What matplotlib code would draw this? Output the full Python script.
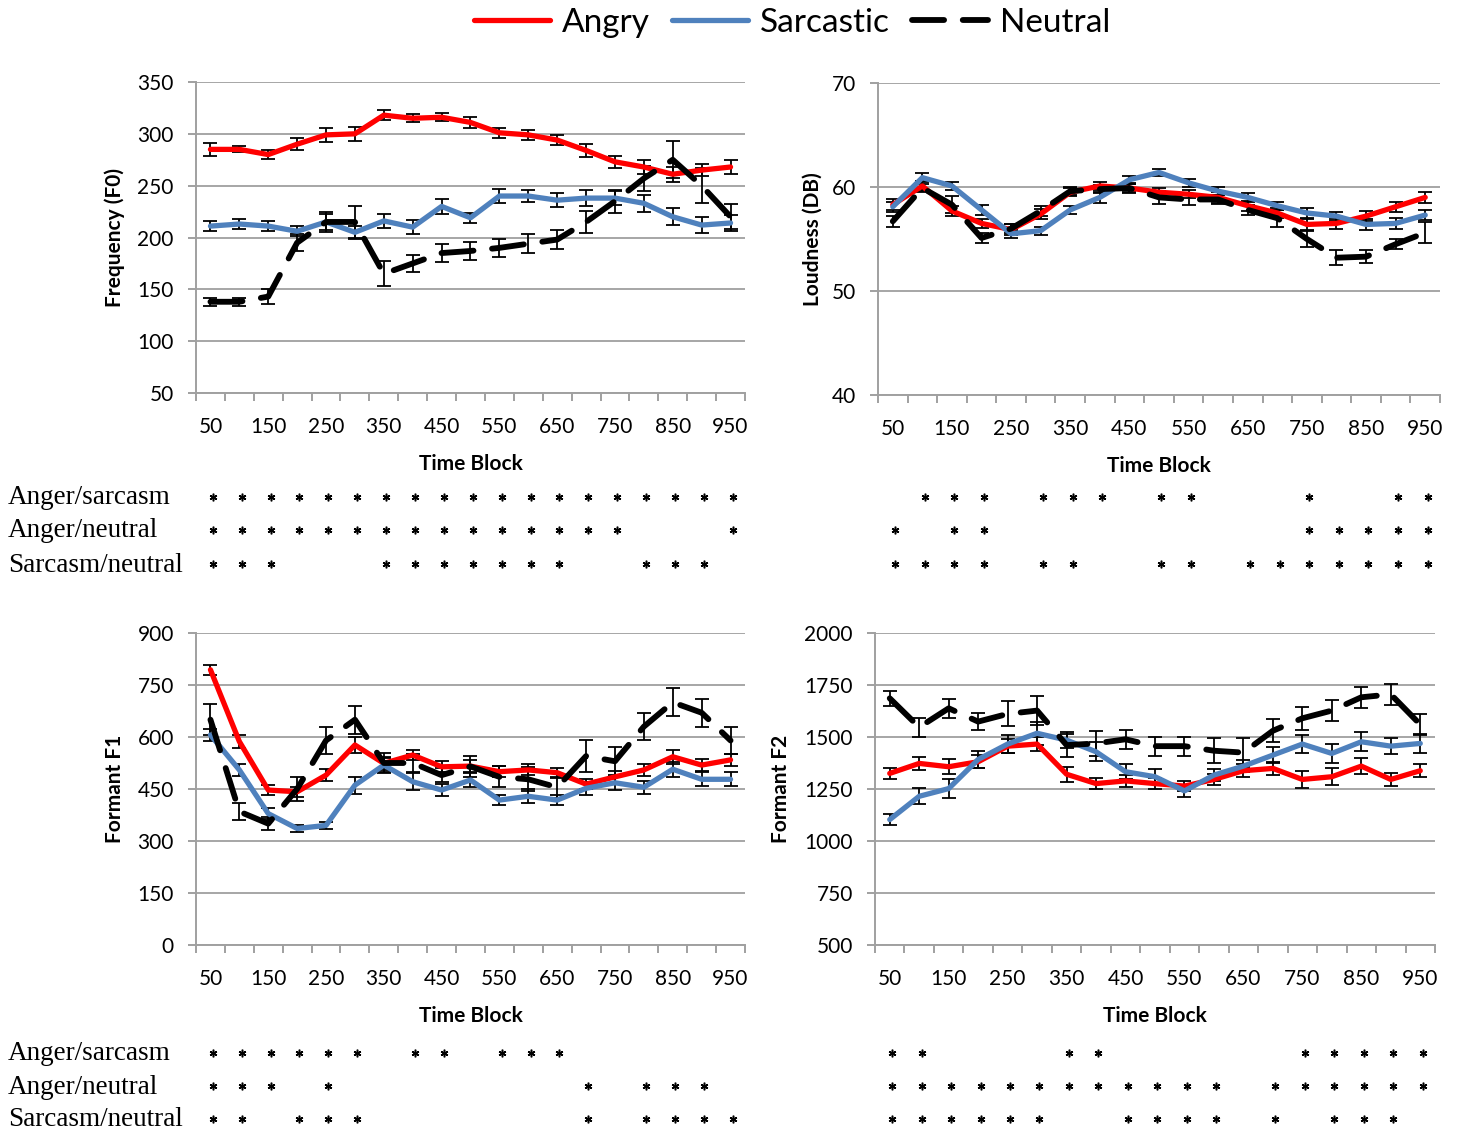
import matplotlib
matplotlib.use("Agg")
import matplotlib.pyplot as plt
import matplotlib.transforms as mtransforms
import numpy as np

# ---------------- data ----------------
blocks = [50, 100, 150, 200, 250, 300, 350, 400, 450, 500,
          550, 600, 650, 700, 750, 800, 850, 900, 950]
tick_labels = ["50", "150", "250", "350", "450", "550", "650", "750", "850", "950"]

# Frequency (F0)
f0_angry = [285, 285, 280, 290, 299, 300, 318, 315, 316, 311, 301, 299, 294, 284, 273, 268, 261, 265, 268]
f0_angry_err = [6, 3, 4, 6, 7, 7, 5, 4, 4, 5, 5, 5, 5, 6, 6, 7, 7, 6, 7]
f0_sarc = [211, 213, 211, 206, 215, 205, 216, 210, 230, 219, 240, 240, 236, 238, 238, 233, 220, 212, 214]
f0_sarc_err = [5, 5, 5, 5, 8, 6, 7, 7, 7, 5, 7, 6, 7, 8, 7, 8, 8, 8, 8]
f0_neut = [138, 138, 143, 195, 215, 215, 165, 175, 185, 187, 190, 194, 198, 215, 235, 257, 275, 250, 220]
f0_neut_err = [4, 4, 7, 8, 10, 15, 12, 8, 9, 9, 9, 9, 9, 11, 11, 12, 18, 17, 12]

# Loudness (DB)
ld_angry = [58.3, 60.1, 57.7, 56.5, 55.9, 57.4, 59.5, 60.1, 59.9, 59.5, 59.3, 59.0, 58.2, 57.5, 56.4, 56.5, 57.2, 58.1, 59.0]
ld_angry_err = [0.5, 0.5, 0.5, 0.4, 0.5, 0.5, 0.4, 0.4, 0.4, 0.4, 0.4, 0.5, 0.5, 0.5, 0.5, 0.5, 0.5, 0.5, 0.5]
ld_sarc = [58.1, 60.9, 60.1, 57.8, 55.5, 55.8, 57.8, 59.0, 60.7, 61.4, 60.4, 59.6, 59.0, 58.2, 57.5, 57.2, 56.4, 56.5, 57.3]
ld_sarc_err = [0.5, 0.4, 0.4, 0.5, 0.4, 0.4, 0.4, 0.5, 0.4, 0.3, 0.4, 0.4, 0.4, 0.4, 0.5, 0.4, 0.5, 0.5, 0.5]
ld_neut = [56.7, 59.9, 58.3, 55.1, 56.0, 57.7, 59.6, 59.8, 59.9, 59.0, 58.8, 58.8, 57.8, 57.0, 55.0, 53.2, 53.3, 54.5, 55.6]
ld_neut_err = [0.5, 0.4, 0.8, 0.5, 0.4, 0.5, 0.4, 0.4, 0.5, 0.6, 0.5, 0.4, 0.5, 0.8, 0.8, 0.7, 0.6, 0.5, 1.0]

# Formant F1
f1_angry = [794, 587, 447, 442, 490, 577, 524, 548, 514, 516, 500, 505, 497, 464, 485, 505, 543, 519, 534]
f1_angry_err = [15, 18, 15, 15, 18, 22, 18, 15, 16, 18, 15, 16, 15, 15, 18, 18, 20, 18, 18]
f1_sarc = [606, 505, 379, 336, 345, 461, 519, 471, 447, 476, 418, 429, 418, 452, 468, 455, 507, 478, 478]
f1_sarc_err = [18, 18, 15, 10, 10, 25, 20, 25, 18, 20, 15, 20, 15, 18, 20, 18, 22, 20, 20]
f1_neut = [650, 385, 350, 450, 590, 650, 525, 525, 490, 515, 485, 478, 455, 545, 530, 630, 700, 670, 590]
f1_neut_err = [45, 25, 18, 35, 40, 40, 30, 25, 20, 30, 30, 35, 30, 45, 40, 40, 40, 40, 40]

# Formant F2
f2_angry = [1325, 1373, 1357, 1381, 1456, 1466, 1321, 1276, 1289, 1276, 1264, 1296, 1338, 1349, 1296, 1309, 1360, 1296, 1338]
f2_angry_err = [25, 32, 35, 32, 32, 35, 35, 25, 28, 28, 25, 25, 30, 30, 40, 40, 40, 30, 30]
f2_sarc = [1103, 1215, 1252, 1392, 1466, 1518, 1485, 1429, 1333, 1309, 1241, 1317, 1360, 1413, 1466, 1421, 1477, 1456, 1469]
f2_sarc_err = [25, 38, 45, 40, 42, 55, 40, 45, 35, 35, 30, 30, 30, 40, 45, 45, 45, 40, 45]
f2_neut = [1686, 1547, 1638, 1574, 1611, 1627, 1461, 1469, 1489, 1456, 1456, 1434, 1425, 1530, 1590, 1627, 1691, 1705, 1560]
f2_neut_err = [35, 45, 45, 40, 60, 70, 55, 60, 45, 45, 45, 60, 70, 55, 55, 50, 50, 50, 50]

# significance stars (time blocks with a star)
row_labels = ["Anger/sarcasm", "Anger/neutral", "Sarcasm/neutral"]
f0_sig = [
    [50, 100, 150, 200, 250, 300, 350, 400, 450, 500, 550, 600, 650, 700, 750, 800, 850, 900, 950],
    [50, 100, 150, 200, 250, 300, 350, 400, 450, 500, 550, 600, 650, 700, 750, 950],
    [50, 100, 150, 350, 400, 450, 500, 550, 600, 650, 800, 850, 900],
]
ld_sig = [
    [100, 150, 200, 300, 350, 400, 500, 550, 750, 900, 950],
    [50, 150, 200, 750, 800, 850, 900, 950],
    [50, 100, 150, 200, 300, 350, 500, 550, 650, 700, 750, 800, 850, 900, 950],
]
f1_sig = [
    [50, 100, 150, 200, 250, 300, 400, 450, 550, 600, 650],
    [50, 100, 150, 250, 700, 800, 850, 900],
    [50, 100, 200, 250, 300, 700, 800, 850, 900, 950],
]
f2_sig = [
    [50, 100, 350, 400, 750, 800, 850, 900, 950],
    [50, 100, 150, 200, 250, 300, 350, 400, 450, 500, 550, 600, 700, 750, 800, 850, 900, 950],
    [50, 100, 150, 200, 250, 300, 450, 500, 550, 600, 700, 800, 850, 900],
]

# ---------------- style ----------------
plt.rcParams['font.family'] = ['Lato', 'DejaVu Sans']
RED = "#FF0000"
BLUE = "#4F81BD"
GRID = "#A6A6A6"
SPINE = "#A0A0A0"

fig = plt.figure(figsize=(14.6, 11.31), dpi=100)
W, H = 1460, 1131

def px_axes(x0, y_top, x1, y_bot):
    return fig.add_axes([x0 / W, 1 - y_bot / H, (x1 - x0) / W, (y_bot - y_top) / H])

ax_f0 = px_axes(196, 82, 745, 393)
ax_ld = px_axes(878, 83, 1440, 395)
ax_f1 = px_axes(196, 633, 745, 945)
ax_f2 = px_axes(875, 633, 1435, 945)

x = np.arange(len(blocks))

def draw(ax, ang, ange, sar, sare, neu, neue, ylim, ystep, ylabel, ylabel_x):
    eb = dict(fmt='none', ecolor='black', elinewidth=1.3, capsize=5, capthick=1.3, zorder=3)
    ax.errorbar(x, ang, yerr=ange, **eb)
    ax.plot(x, ang, color=RED, lw=3.8, solid_capstyle='round', zorder=4, label='Angry')
    ax.errorbar(x, sar, yerr=sare, **eb)
    ax.plot(x, sar, color=BLUE, lw=3.8, solid_capstyle='round', zorder=4, label='Sarcastic')
    ax.errorbar(x, neu, yerr=neue, **eb)
    ax.plot(x, neu, color='black', lw=4.2, dashes=(5.5, 3.2), dash_capstyle='round',
            zorder=5, label='Neutral')
    ax.set_xlim(-0.5, len(blocks) - 0.5)
    ax.set_ylim(*ylim)
    ax.set_yticks(np.arange(ylim[0], ylim[1] + ystep / 2, ystep))
    ax.yaxis.grid(True, color=GRID, lw=1.4)
    ax.set_axisbelow(True)
    for s in ['top', 'right']:
        ax.spines[s].set_visible(False)
    for s in ['left', 'bottom']:
        ax.spines[s].set_color(SPINE)
        ax.spines[s].set_linewidth(1.4)
    ax.set_xticks(np.arange(-0.5, len(blocks) + 0.5, 1.0))
    ax.set_xticklabels([])
    ax.set_xticks(np.arange(0, len(blocks), 2), minor=True)
    ax.set_xticklabels(tick_labels, minor=True)
    ax.tick_params(axis='x', which='major', length=6, width=1.4, color=SPINE)
    ax.tick_params(axis='x', which='minor', length=0, pad=17, labelsize=15)
    ax.tick_params(axis='y', length=6, width=1.4, color=SPINE, pad=10, labelsize=15)
    ax.set_ylabel(ylabel, fontsize=15, fontweight='bold')
    ax.yaxis.set_label_coords(ylabel_x, 0.5)
    ax.set_xlabel("Time Block", fontsize=15, fontweight='bold')
    ax.xaxis.set_label_coords(0.5, -0.196)

draw(ax_f0, f0_angry, f0_angry_err, f0_sarc, f0_sarc_err, f0_neut, f0_neut_err,
     (50, 350), 50, "Frequency (F0)", -0.129)
draw(ax_ld, ld_angry, ld_angry_err, ld_sarc, ld_sarc_err, ld_neut, ld_neut_err,
     (40, 70), 10, "Loudness (DB)", -0.098)
draw(ax_f1, f1_angry, f1_angry_err, f1_sarc, f1_sarc_err, f1_neut, f1_neut_err,
     (0, 900), 150, "Formant F1", -0.129)
draw(ax_f2, f2_angry, f2_angry_err, f2_sarc, f2_sarc_err, f2_neut, f2_neut_err,
     (500, 2000), 250, "Formant F2", -0.150)

def stars(ax, sig, row_y, labels):
    tr = mtransforms.blended_transform_factory(ax.transData, fig.transFigure)
    for r, (s, yp) in enumerate(zip(sig, row_y)):
        xi = [blocks.index(b) + 0.08 for b in s]
        ax.plot(xi, [1 - yp / H] * len(xi), linestyle='none', marker=(6, 2, 0),
                markersize=5.5, mew=1.1, color='black', transform=tr, clip_on=False)
        if labels:
            fig.text(8 / W, 1 - (yp + 1) / H, row_labels[r], fontsize=19.5,
                     family='Liberation Serif', va='center', ha='left')

top_rows = [497, 530, 564]
bot_rows = [1053, 1086, 1119]
stars(ax_f0, f0_sig, top_rows, True)
stars(ax_ld, ld_sig, top_rows, False)
stars(ax_f1, f1_sig, bot_rows, True)
stars(ax_f2, f2_sig, bot_rows, False)

handles, labels = ax_f0.get_legend_handles_labels()
fig.legend(handles, labels, loc='center', bbox_to_anchor=(792 / W, 1 - 23 / H), ncol=3,
           frameon=False, fontsize=24, handlelength=2.3, handletextpad=0.35,
           columnspacing=0.65)

fig.savefig("out.png", dpi=100)
